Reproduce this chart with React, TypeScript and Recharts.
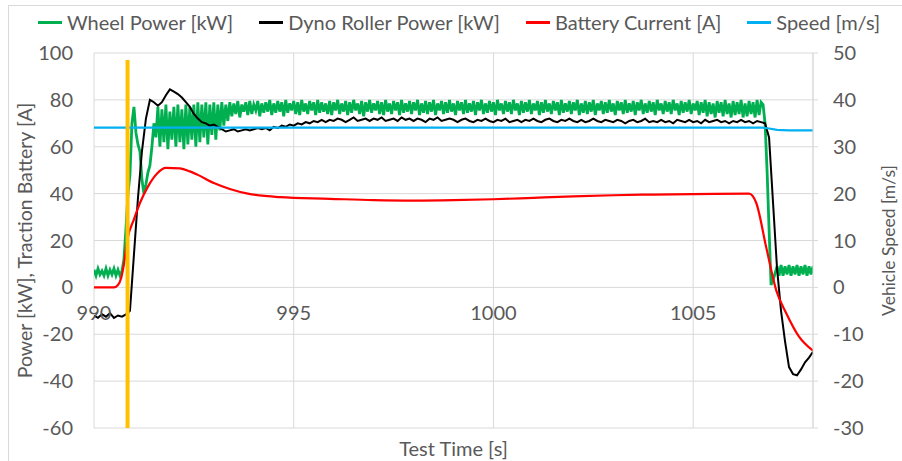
import { LineChart, Line, XAxis, YAxis, CartesianGrid, Legend } from "recharts";

const FONT = "Lato, 'Open Sans', sans-serif";
const TEXT = "#595959";
const GRID = "#D9D9D9";

const timeTicks = [990, 995, 1000, 1005];
const powerTicks = [-60, -40, -20, 0, 20, 40, 60, 80, 100];
const speedTicks = [-30, -20, -10, 0, 10, 20, 30, 40, 50];

const legendNames = ["Wheel Power [kW]", "Dyno Roller Power [kW]", "Battery Current [A]", "Speed [m/s]"];
const legendColors = ["#00B050", "#000000", "#FF0000", "#00B0F0"];

// wheel power, sampled every 0.05 s from 990 s
const wheelStart = 990;
const wheelStep = 0.05;
const wheelPower = [
  7.5, 5, 8, 5.5, 7, 5, 8, 5, 7.5, 5.5, 8, 5, 7.5, 5, 7,
  12, 25, 40, 48, 70, 77, 66, 61, 58, 46, 40, 44, 49, 52, 60, 70, 64,
  77, 60, 76, 62, 78, 59, 75, 63, 77, 60, 78, 62, 76, 59, 78, 61, 77, 63,
  78, 60, 79, 62, 78, 64, 79, 61, 78, 65, 79, 63, 78, 67, 79, 69, 78,
  71, 79, 73, 78.5, 74, 79.5, 72.5, 78, 75, 79, 73.5, 79.5, 74, 78, 75.5, 79.5, 73, 78.5, 74.5, 79,
  75, 80, 73.5, 78.5, 74.5, 79.5, 75, 79, 73, 80, 74.5, 78.5, 75.5, 79.5, 74, 79, 73.5, 80, 75, 78.5,
  74, 79.5, 75.5, 79, 73.5, 80, 74.5, 79, 75, 78.5, 74, 79.5, 73.5, 79, 75.5, 80, 74, 78.5, 75, 79.5,
  73.5, 79, 74.5, 80, 75.5, 78.5, 74, 79.5, 73, 79, 75, 80, 74.5, 78.5, 75.5, 79.5, 74, 79, 73.5, 80,
  75, 78.5, 74, 79.5, 75.5, 79, 73.5, 80, 74.5, 78.5, 75, 79.5, 74, 79, 75.5, 80, 73.5, 78.5, 74.5, 79.5,
  74, 79, 75, 80, 73.5, 78.5, 75.5, 79.5, 74, 79, 74.5, 80, 75, 78.5, 73.5, 79.5, 75.5, 79, 74, 80,
  74.5, 78.5, 75, 79.5, 73.5, 79, 75.5, 80, 74, 78.5, 74.5, 79.5, 75, 79, 73.5, 80, 75.5, 78.5, 74, 79.5,
  75, 79, 74, 80, 75.5, 78.5, 73.5, 79.5, 74.5, 79, 75, 80, 74, 78.5, 75.5, 79.5, 73.5, 79, 74.5, 80,
  75, 78.5, 74, 79.5, 75.5, 79, 73.5, 80, 74.5, 78.5, 75, 79.5, 74, 79, 75.5, 80, 73.5, 78.5, 74.5, 79.5,
  74, 79, 75, 80, 73.5, 78.5, 75.5, 79.5, 74, 79, 74.5, 80, 75, 78.5, 73.5, 79.5, 75.5, 79, 74, 80,
  74.5, 78.5, 75, 79.5, 73.5, 79, 75.5, 80, 74, 78.5, 74.5, 79.5, 75, 79, 73.5, 80, 75.5, 78.5, 74, 79.5,
  75, 79, 74, 80, 75.5, 78.5, 73.5, 79.5, 74.5, 79, 75, 80, 74, 78.5, 75.5, 79.5, 73.5, 79, 74.5, 80,
  73, 79, 74, 78.5, 72.5, 79.5, 74.5, 79, 73, 80, 74, 78.5, 72.5, 79.5, 73.5, 79, 74, 80, 72.5, 78.5,
  73, 79.5, 74, 79, 72.5, 80, 73.5, 79,
  78, 70, 50, 25, 1, 3, 6, 9, 5, 9.5, 5, 9, 5.5, 9.5, 5, 9, 5.5, 9.5, 5, 9, 5.5, 9.5, 5, 9, 5.5, 9,
];

// dyno roller power, sampled every 0.1 s from 990 s
const dynoStart = 990;
const dynoStep = 0.1;
const dynoPower = [
  -12, -13, -11.5, -12.5, -11, -13, -12, -12.5, -11.5,
  -10, 14, 38, 58, 72, 80, 79, 77.5, 79, 82,
  84.5, 83.5, 82.5, 81, 79, 77, 74, 72, 70.5, 70,
  69, 69.5, 68.5, 67.5, 66.5, 67, 67.5, 66.5, 67, 67.5,
  67, 67.5, 68, 67.5, 68, 67, 68.5, 68, 69, 68.5,
  69.5, 69, 70, 69.5, 70.5, 70, 71, 70.5, 71.5, 70.5,
  71.5,
  71, 72, 71.5, 70.5, 71.5, 72.5, 71, 71.5, 72, 71,
  72, 71.5, 72.5, 71, 71.5, 72, 71, 72.5, 71.5, 72,
  71, 72, 71.5, 70.5, 72, 71.5, 72.5, 71, 71.5, 72,
  71.5, 70.5, 71.5, 72, 71, 70.5, 71.5, 71, 72, 71,
  70.5, 71.5, 71, 72, 70.5, 71, 71.5, 70.5, 71.5, 71,
  72, 71, 70.5, 71.5, 72, 71, 70.5, 71.5, 71, 72,
  71, 70.5, 71.5, 70.5, 71, 72, 71, 70.5, 71.5, 71,
  70.5, 71.5, 71, 70, 71, 71.5, 70.5, 71, 72, 70.5,
  71, 70.5, 71.5, 70.5, 71, 70, 71.5, 71, 70.5, 71.5,
  70.5, 71, 70, 71.5, 70.5, 71, 71.5, 70.5, 71, 70,
  71, 70.5, 71.5, 70.5, 71, 70, 71, 70.5,
  70, 64, 36, 8, -10, -23, -34, -37, -37.5, -35, -32, -30, -27.5,
];

const currentTime = [
  990, 990.5, 990.6, 990.68, 990.75, 990.83, 991, 991.15, 991.35, 991.58, 991.8, 992.15, 992.4,
  992.6, 993, 993.4, 993.85, 994.65, 995.9, 997, 998, 999, 1000, 1001, 1002, 1003, 1004, 1005,
  1006.4, 1006.58, 1006.83, 1007.08, 1007.33, 1007.65, 1008,
];
const batteryCurrent = [
  0, 0, 1, 4, 10, 20, 29, 36, 43, 48.6, 51, 50.8, 49.5,
  48, 44.5, 42, 40, 38.5, 37.8, 37.2, 37, 37.2, 37.6, 38.2, 38.8, 39.3, 39.6, 39.8,
  40, 36, 17, -1.3, -11, -21, -27,
];

const speedTime = [990, 1006.7, 1006.9, 1007.1, 1007.4, 1008];
const vehicleSpeed = [34.1, 34.1, 33.9, 33.6, 33.5, 33.5];

const markerTime = [990.84, 990.84];
const markerLevel = [97, -60];

const wheelRows = wheelPower.map((v, i) => ({ t: +(wheelStart + i * wheelStep).toFixed(2), v }));
const dynoRows = dynoPower.map((v, i) => ({ t: +(dynoStart + i * dynoStep).toFixed(2), v }));
const currentRows = currentTime.map((t, i) => ({ t, v: batteryCurrent[i] }));
const speedRows = speedTime.map((t, i) => ({ t, v: vehicleSpeed[i] }));
const markerRows = markerTime.map((t, i) => ({ t, v: markerLevel[i] }));

const TimeTick = ({ x, y, payload }: any) => (
  <text x={x} y={y} dy={-116} textAnchor="middle" fill={TEXT} fontSize={20} fontFamily={FONT}>
    {payload.value}
  </text>
);

const renderLegend = () => (
  <div
    style={{
      display: "flex",
      justifyContent: "center",
      alignItems: "center",
      gap: 26,
      height: 30,
      fontFamily: FONT,
      fontSize: 20,
      color: TEXT,
      paddingLeft: 16,
    }}
  >
    {legendNames.map((name, i) => (
      <div key={name} style={{ display: "flex", alignItems: "center", whiteSpace: "nowrap" }}>
        <span style={{ display: "inline-block", width: 24, height: 3, background: legendColors[i], marginRight: 5 }} />
        {name}
      </div>
    ))}
  </div>
);

export default function App() {
  return (
    <div style={{ position: "absolute", left: 0, top: 0, width: 902, height: 461, overflow: "hidden", background: "#fff" }}>
      <div
        style={{
          position: "absolute",
          left: 8,
          top: 5,
          width: 1000,
          height: 1000,
          border: `1px solid ${GRID}`,
        }}
      />
      <LineChart width={902} height={461} margin={{ top: 23, right: 0, bottom: 3, left: 0 }}>
        <CartesianGrid stroke={GRID} yAxisId="left" />
        <XAxis
          type="number"
          dataKey="t"
          domain={[990, 1008]}
          ticks={timeTicks}
          allowDataOverflow
          height={30}
          axisLine={false}
          tickLine={false}
          tick={<TimeTick />}
          label={{ value: "Test Time [s]", position: "insideBottom", offset: 2, fill: TEXT, fontSize: 20, fontFamily: FONT }}
        />
        <YAxis
          yAxisId="left"
          type="number"
          domain={[-60, 100]}
          ticks={powerTicks}
          width={94}
          axisLine={false}
          tickLine={false}
          tickSize={6}
          tickMargin={15}
          tick={{ fill: TEXT, fontSize: 20, fontFamily: FONT }}
          label={{
            value: "Power [kW], Traction Battery [A]",
            angle: -90,
            position: "insideLeft",
            offset: 25,
            fill: TEXT,
            fontSize: 19.5,
            fontFamily: FONT,
            style: { textAnchor: "middle" },
          }}
        />
        <YAxis
          yAxisId="right"
          orientation="right"
          type="number"
          domain={[-30, 50]}
          ticks={speedTicks}
          width={89}
          axisLine={{ stroke: GRID }}
          tickLine={{ stroke: GRID }}
          tickSize={5}
          tickMargin={15}
          tick={{ fill: TEXT, fontSize: 20, fontFamily: FONT, textAnchor: "start" }}
          label={{
            value: "Vehicle Speed [m/s]",
            angle: -90,
            position: "insideRight",
            offset: 13,
            fill: TEXT,
            fontSize: 17.5,
            fontFamily: FONT,
            style: { textAnchor: "middle" },
          }}
        />
        <Legend verticalAlign="top" content={renderLegend} wrapperStyle={{ top: 7 }} />
        <Line data={wheelRows} dataKey="v" yAxisId="left" name={legendNames[0]} stroke={legendColors[0]} strokeWidth={2.8} dot={false} type="linear" isAnimationActive={false} />
        <Line data={dynoRows} dataKey="v" yAxisId="left" name={legendNames[1]} stroke={legendColors[1]} strokeWidth={2} dot={false} type="linear" isAnimationActive={false} />
        <Line data={currentRows} dataKey="v" yAxisId="left" name={legendNames[2]} stroke={legendColors[2]} strokeWidth={2.2} dot={false} type="monotone" isAnimationActive={false} />
        <Line data={speedRows} dataKey="v" yAxisId="right" name={legendNames[3]} stroke={legendColors[3]} strokeWidth={2.2} dot={false} type="linear" isAnimationActive={false} />
        <Line data={markerRows} dataKey="v" yAxisId="left" legendType="none" stroke="#FFC000" strokeWidth={4} dot={false} type="linear" isAnimationActive={false} />
      </LineChart>
    </div>
  );
}
